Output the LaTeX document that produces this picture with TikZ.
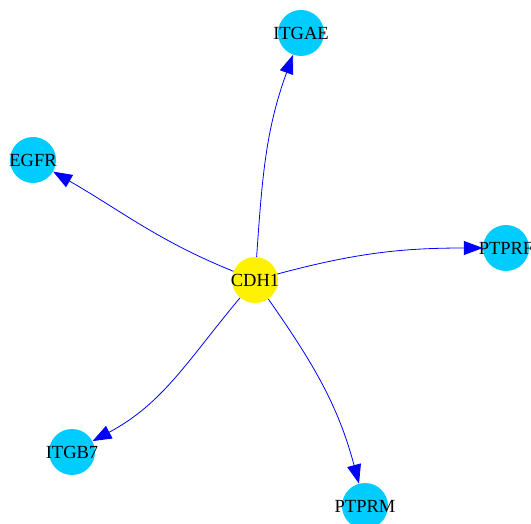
\documentclass[tikz,border=0pt]{standalone}
\usepackage{fontspec}
\setmainfont{Liberation Serif}
\usetikzlibrary{arrows.meta}
\definecolor{genecyan}{RGB}{0,204,255}
\begin{document}
\begin{tikzpicture}[x=1pt,y=1pt]

      \useasboundingbox (0,0) rectangle (531,523);
      \clip (0,0) rectangle (531,523);

      \begin{scope}[every node/.style={circle, fill=genecyan, minimum size=46pt, inner sep=0pt,
          font=\fontsize{18.5}{20}\selectfont}]
        \node[fill=yellow] (cdh1)  at (255,243) {\makebox[0pt]{CDH1}};
        \node (itgae) at (301,490) {\makebox[0pt]{ITGAE}};
        \node (egfr)  at (33,363)  {\makebox[0pt]{EGFR}};
        \node (ptprf) at (506,275) {\makebox[0pt]{PTPRF}};
        \node (itgb7) at (72,71)   {\makebox[0pt]{ITGB7}};
        \node (ptprm) at (365,17)  {\makebox[0pt]{PTPRM}};
      \end{scope}

      \begin{scope}[every edge/.style={draw=blue, line width=0.8pt,
          -{Triangle[length=19pt,width=14pt]}}]
        \path (cdh1) edge[out=86,in=250]   (itgae);
        \path (cdh1) edge[out=158,in=-30]  (egfr);
        \path (cdh1) edge[out=15,in=180]   (ptprf);
        \path (cdh1) edge[out=-55,in=105]  (ptprm);
        \path (cdh1) edge[out=-130,in=28]  (itgb7);
      \end{scope}

    \end{tikzpicture}
\end{document}
